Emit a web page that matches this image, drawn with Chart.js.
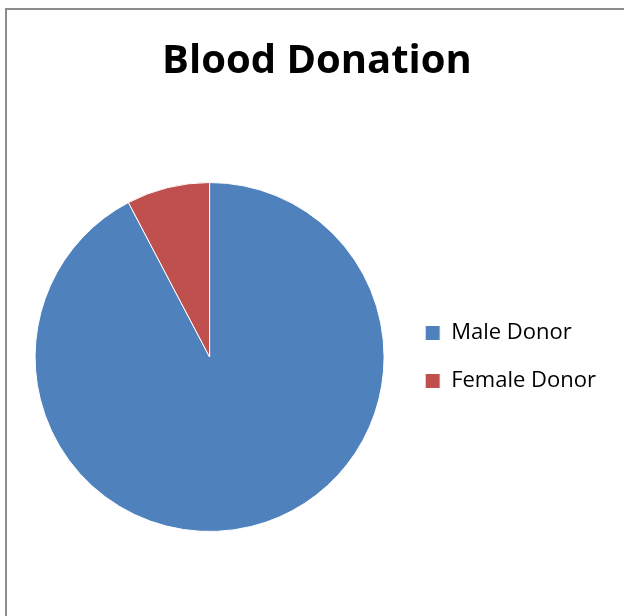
<!DOCTYPE html>
<html>
<head>
<meta charset="utf-8">
<script src="https://cdn.jsdelivr.net/npm/chart.js@4"></script>
<style>
  html, body { margin: 0; padding: 0; background: #fff; overflow: hidden; }
  #frame {
    position: absolute; left: 5px; top: 8px; right: -10px; bottom: -10px;
    border-left: 2px solid #8c8c8c; border-top: 2px solid #8c8c8c;
  }
  #wrap { position: absolute; left: 0; top: 0; width: 624px; height: 616px; }
</style>
</head>
<body>
<div id="frame"></div>
<div id="wrap"><canvas id="myChart"></canvas></div>
<script>
var labels = ["Male Donor", "Female Donor"];
var donors = [92.3, 7.7];
var sliceColors = ["#4F81BD", "#C0504D"];

// keep the title centred over the whole frame, not only the pie side
var centreTitle = {
  id: "centreTitle",
  afterLayout: function (chart) {
    if (chart.titleBlock) {
      chart.titleBlock.left = 10;
      chart.titleBlock.right = 624;
    }
  }
};

new Chart("myChart", {
  type: "pie",
  data: {
    labels: labels,
    datasets: [{
      data: donors,
      backgroundColor: sliceColors,
      borderColor: "#ffffff",
      borderWidth: 1
    }]
  },
  options: {
    responsive: true,
    maintainAspectRatio: false,
    animation: false,
    layout: {
      padding: { left: 20, right: 18, top: 0, bottom: 84 }
    },
    plugins: {
      title: {
        display: true,
        text: "Blood Donation",
        color: "#000",
        font: { family: "'Open Sans', sans-serif", size: 40, weight: "bold", lineHeight: 1.2 },
        padding: { top: 38, bottom: 96 }
      },
      legend: {
        position: "right",
        fullSize: false,
        labels: {
          boxWidth: 15,
          boxHeight: 15,
          padding: 26,
          color: "#000",
          font: { family: "'Open Sans', sans-serif", size: 22 }
        }
      },
      tooltip: { enabled: false }
    }
  },
  plugins: [centreTitle]
});
</script>
</body>
</html>
